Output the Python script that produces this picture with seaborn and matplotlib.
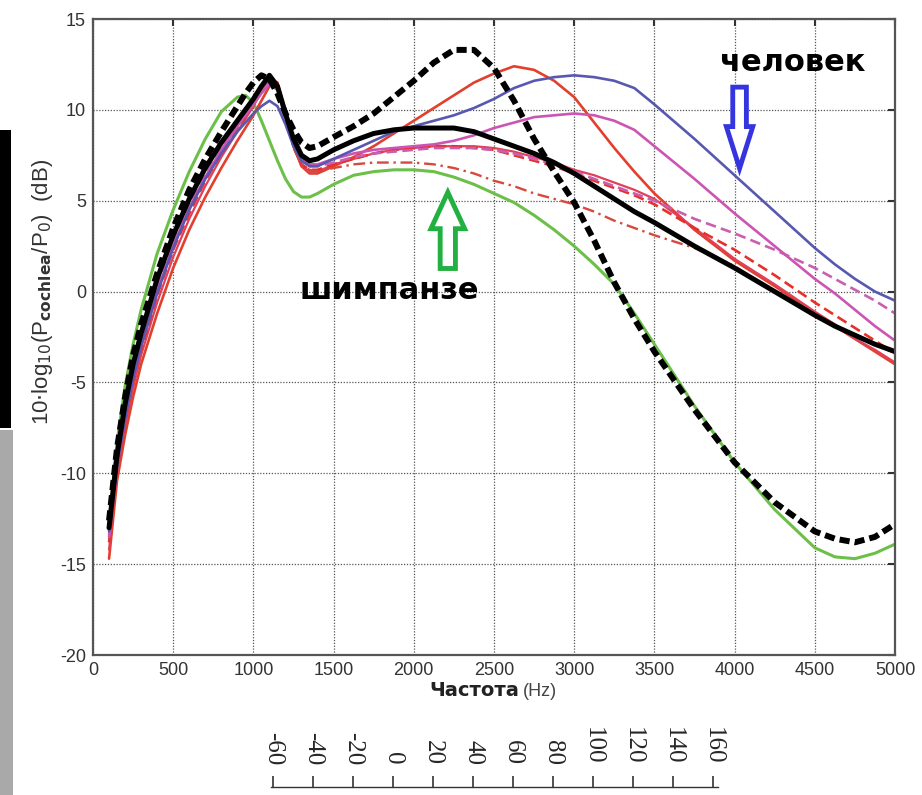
import numpy as np
import pandas as pd
import matplotlib
matplotlib.use("Agg")
import matplotlib.pyplot as plt
import seaborn as sns
from matplotlib.patches import FancyArrow, Rectangle

# ---------------- data ----------------
freq = [100, 150, 200, 250, 300,
        400, 500, 600, 700, 800, 900,
        950, 1000, 1050, 1100, 1150, 1200, 1250, 1300, 1350, 1400,
        1500, 1625, 1750, 1875, 2000, 2125, 2250, 2375, 2500, 2625, 2750, 2875, 3000, 3125, 3250, 3375, 3500,
        3750, 4000, 4250, 4500,
        4625, 4750, 4875, 5000]

black_dashed = [-12.6, -8.6, -5.8, -3.5, -1.8,
                1.0, 3.5, 5.6, 7.3, 8.8, 10.2,
                10.9, 11.5, 11.9, 11.7, 10.9, 9.8, 8.9, 8.2, 7.9, 8.0,
                8.5, 9.1, 9.8, 10.7, 11.6, 12.6, 13.3, 13.3, 12.3, 10.5, 8.4, 6.6, 4.9, 2.8, 0.5, -1.5, -3.3,
                -6.5, -9.4, -11.6, -13.2,
                -13.6, -13.8, -13.5, -12.8]
black_solid = [-13.0, -9.0, -6.2, -4.0, -2.3,
               0.7, 3.1, 5.1, 6.8, 8.2, 9.4,
               10.0, 10.6, 11.3, 11.9, 11.3, 9.8, 8.4, 7.5, 7.2, 7.3,
               7.8, 8.3, 8.7, 8.9, 9.0, 9.0, 9.0, 8.8, 8.4, 8.0, 7.6, 7.1, 6.5, 5.8, 5.1, 4.4, 3.8,
               2.5, 1.3, 0.0, -1.3,
               -1.9, -2.4, -2.9, -3.3]
green = [-12.8, -8.3, -5.2, -2.9, -1.0,
         2.1, 4.5, 6.6, 8.4, 9.9, 10.7,
         10.8, 10.4, 9.4, 8.3, 7.2, 6.2, 5.5, 5.2, 5.2, 5.4,
         5.9, 6.4, 6.6, 6.7, 6.7, 6.6, 6.3, 5.9, 5.4, 4.9, 4.2, 3.4, 2.5, 1.5, 0.4, -1.2, -2.9,
         -6.3, -9.4, -12.0, -14.1,
         -14.6, -14.7, -14.4, -13.9]
blue = [-13.2, -9.6, -7.0, -4.8, -3.0,
        -0.1, 2.4, 4.5, 6.2, 7.6, 8.8,
        9.3, 9.8, 10.2, 10.5, 10.2, 9.2, 8.0, 7.2, 6.9, 6.9,
        7.3, 7.8, 8.3, 8.8, 9.1, 9.4, 9.7, 10.1, 10.6, 11.2, 11.6, 11.8, 11.9, 11.8, 11.6, 11.2, 10.3,
        8.4, 6.4, 4.4, 2.4,
        1.5, 0.7, 0.0, -0.5]
red_peak = [-14.7, -10.4, -7.9, -5.8, -4.0,
            -1.2, 1.3, 3.4, 5.2, 6.8, 8.3,
            9.0, 9.7, 10.5, 11.3, 11.5, 9.9, 8.0, 6.9, 6.5, 6.5,
            6.9, 7.4, 8.0, 8.7, 9.4, 10.1, 10.8, 11.5, 12.0, 12.4, 12.2, 11.6, 10.7, 9.3, 7.9, 6.6, 5.4,
            3.4, 1.7, 0.3, -1.2,
            -1.9, -2.6, -3.3, -4.0]
magenta = [-13.5, -9.6, -7.0, -4.8, -3.0,
           0.0, 2.5, 4.6, 6.3, 7.8, 9.1,
           9.7, 10.3, 10.9, 11.4, 11.1, 9.7, 8.2, 7.3, 7.0, 7.0,
           7.3, 7.6, 7.8, 7.9, 8.0, 8.1, 8.3, 8.6, 9.0, 9.3, 9.6, 9.7, 9.8, 9.7, 9.4, 8.9, 8.0,
           6.2, 4.3, 2.5, 0.7,
           -0.1, -1.0, -1.9, -2.7]
red_thin = [-14.2, -10.0, -7.4, -5.3, -3.5,
            -0.6, 1.9, 4.0, 5.8, 7.4, 8.8,
            9.5, 10.2, 11.0, 11.8, 11.5, 9.8, 8.0, 6.9, 6.6, 6.6,
            7.0, 7.3, 7.6, 7.8, 7.9, 8.0, 8.0, 8.0, 7.9, 7.7, 7.4, 7.1, 6.7, 6.4, 6.0, 5.6, 5.1,
            3.5, 1.8, 0.4, -1.1,
            -1.8, -2.6, -3.2, -3.9]
magenta_dashed = [-13.4, -9.4, -6.8, -4.6, -2.8,
                  0.2, 2.7, 4.8, 6.5, 8.0, 9.3,
                  9.9, 10.5, 11.1, 11.6, 11.1, 9.6, 8.1, 7.2, 6.9, 6.9,
                  7.1, 7.4, 7.6, 7.7, 7.8, 7.9, 7.9, 7.9, 7.8, 7.6, 7.3, 7.0, 6.6, 6.2, 5.8, 5.4, 5.0,
                  4.0, 3.2, 2.3, 1.3,
                  0.7, 0.1, -0.5, -1.2]
red_dashed = [-13.8, -9.8, -7.2, -5.0, -3.2,
              -0.2, 2.3, 4.3, 6.1, 7.6, 9.0,
              9.6, 10.3, 11.0, 11.7, 11.3, 9.7, 8.0, 7.0, 6.7, 6.7,
              7.0, 7.3, 7.6, 7.8, 7.9, 8.0, 8.0, 7.9, 7.8, 7.5, 7.2, 6.9, 6.5, 6.1, 5.7, 5.3, 4.8,
              3.5, 2.3, 0.9, -0.6,
              -1.3, -2.0, -2.7, -3.4]
red_dashdot = [-13.6, -9.6, -7.0, -4.8, -3.0,
               0.0, 2.5, 4.5, 6.2, 7.7, 9.0,
               9.6, 10.3, 11.0, 11.6, 11.1, 9.5, 7.9, 7.0, 6.7, 6.6,
               6.8, 7.0, 7.1, 7.1, 7.1, 7.0, 6.8, 6.5, 6.1, 5.8, 5.4, 5.1, 4.8, 4.4, 3.9, 3.5, 3.1,
               2.4, 1.4, 0.0, -1.3,
               -1.9, -2.4, -2.9, -3.4]

ruler_ticks = [-60, -40, -20, 0, 20, 40, 60, 80, 100, 120, 140, 160]

series = {
    "green": green, "red_peak": red_peak, "red_thin": red_thin, "red_dashed": red_dashed,
    "red_dashdot": red_dashdot, "magenta_dashed": magenta_dashed, "magenta": magenta,
    "blue": blue, "black_solid": black_solid, "black_dashed": black_dashed,
}
df = pd.concat([pd.DataFrame({"freq": freq, "db": v, "curve": k}) for k, v in series.items()],
               ignore_index=True)

styles = {
    "green": dict(color="#6cc04a", lw=2.2, ls="-"),
    "red_peak": dict(color="#e2402c", lw=1.9, ls="-"),
    "red_thin": dict(color="#e0405a", lw=1.6, ls="-"),
    "red_dashed": dict(color="#e8302a", lw=1.9, ls=(0, (4, 2))),
    "red_dashdot": dict(color="#d8483c", lw=1.7, ls=(0, (5, 2, 1, 2))),
    "magenta_dashed": dict(color="#c85fb0", lw=1.9, ls=(0, (4, 2))),
    "magenta": dict(color="#cc55b4", lw=1.9, ls="-"),
    "blue": dict(color="#5858b0", lw=1.9, ls="-"),
    "black_solid": dict(color="#000000", lw=3.6, ls="-"),
    "black_dashed": dict(color="#000000", lw=4.3, ls=(0, (1.7, 0.85))),
}

# ---------------- figure ----------------
sns.set_style("white")
plt.rcParams["font.family"] = ["Liberation Sans", "DejaVu Sans"]
plt.rcParams["axes.unicode_minus"] = False

fig = plt.figure(figsize=(9.22, 7.95), dpi=100)
W, H = 922, 795
ax = fig.add_axes([93 / W, 1 - 655 / H, (895 - 93) / W, (655 - 19) / H])

for name in series:
    st = styles[name]
    sns.lineplot(data=df[df["curve"] == name], x="freq", y="db", ax=ax, color=st["color"],
                 linewidth=st["lw"], linestyle=st["ls"], sort=False, estimator=None,
                 solid_capstyle="round", solid_joinstyle="round", dash_capstyle="butt")

ax.set_xlim(0, 5000)
ax.set_ylim(-20, 15)
ax.set_xticks(np.arange(0, 5001, 500))
ax.set_yticks(np.arange(-20, 16, 5))
ax.grid(True, color="#555555", linestyle=(0, (1, 1.3)), linewidth=0.9)
for s in ax.spines.values():
    s.set_color("#555555")
    s.set_linewidth(1.6)
ax.tick_params(direction="in", length=5, width=1.5, color="#333333",
               top=True, right=True, labelsize=13, labelcolor="#333333", pad=5)
ax.set_xlabel("")
ax.set_ylabel(r"10$\cdot$log$_{10}$(P$_{\mathbf{cochlea}}$/P$_{0}$)  (dB)", fontsize=16,
              color="#333333")
ax.yaxis.set_label_coords(-0.047, 0.571)

# x label in two parts
fig.text(519 / W, 1 - 691 / H, "Частота", ha="right", va="center", fontsize=14,
         fontweight="bold", family=["DejaVu Sans"], color="#222222")
fig.text(523 / W, 1 - 691 / H, "(Hz)", ha="left", va="center", fontsize=13, color="#444444")

# annotations
ax.text(4360, 12.6, "человек", ha="center", va="center", fontsize=22,
        fontweight="bold", family=["DejaVu Sans"], color="black")
ax.text(1850, 0.05, "шимпанзе", ha="center", va="center", fontsize=22,
        fontweight="bold", family=["DejaVu Sans"], color="black")

ax.add_patch(FancyArrow(4031, 11.25, 0, -4.47, width=85, head_width=165, head_length=2.3,
                        length_includes_head=True, facecolor="white", edgecolor="#3535e0",
                        linewidth=3.5, zorder=6))
ax.add_patch(FancyArrow(2212, 1.27, 0, 4.19, width=95, head_width=210, head_length=2.0,
                        length_includes_head=True, facecolor="white", edgecolor="#22b040",
                        linewidth=3.5, zorder=6))

# left-edge decorations
fig.patches.append(Rectangle((0, 1 - 428 / H), 11 / W, 298 / H, transform=fig.transFigure,
                             facecolor="black", edgecolor="none"))
fig.patches.append(Rectangle((0, 0), 13 / W, 1 - 430 / H, transform=fig.transFigure,
                             facecolor="#a9a9a9", edgecolor="none"))

# bottom ruler
rax = fig.add_axes([271 / W, 1 - 788 / H, (718 - 271) / W, 0.001])
rax.set_xlim(-61, 162.5)
rax.set_ylim(0, 1)
for k in ["left", "right", "bottom"]:
    rax.spines[k].set_visible(False)
rax.spines["top"].set_color("#333333")
rax.spines["top"].set_linewidth(1.0)
rax.set_yticks([])
rax.xaxis.tick_top()
rax.set_xticks(ruler_ticks)
rax.set_xticklabels([str(t) for t in ruler_ticks], rotation=-90,
                    fontfamily="Liberation Serif", fontsize=18)
rax.tick_params(axis="x", direction="out", length=8, width=1.2, color="#333333", pad=8)
rax.set_facecolor("none")

fig.savefig("out.png", dpi=100)
